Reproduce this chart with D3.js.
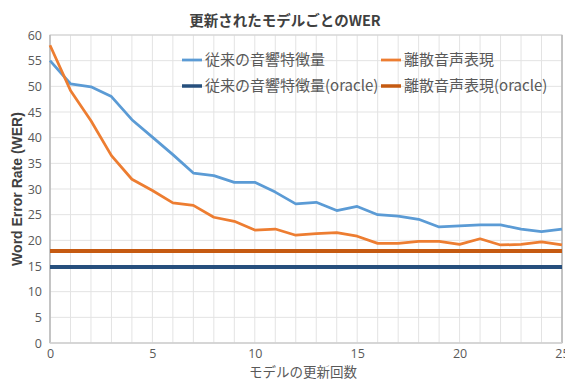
<!DOCTYPE html>
<html>
<head>
<meta charset="utf-8">
<script src="https://cdn.jsdelivr.net/npm/d3@7/dist/d3.min.js"></script>
<style>
  html, body { margin: 0; padding: 0; background: #fff; }
  svg { display: block; font-family: "Noto Sans CJK JP", "Noto Sans", sans-serif; }
</style>
</head>
<body>
<svg id="chart" width="565" height="380"></svg>
<script>
// Number of model updates (x positions)
const updates = d3.range(0, 26);

// WER per update for each feature type
const conventionalWER = [55.0, 50.5, 49.9, 48.0, 43.5, 40.1, 36.7, 33.1, 32.6, 31.3, 31.3, 29.4, 27.1, 27.4, 25.8, 26.6, 25.0, 24.7, 24.1, 22.6, 22.8, 23.0, 23.0, 22.2, 21.7, 22.2];
const discreteWER     = [58.0, 49.2, 43.3, 36.5, 31.9, 29.7, 27.3, 26.8, 24.5, 23.7, 22.0, 22.2, 21.0, 21.3, 21.5, 20.8, 19.4, 19.4, 19.8, 19.8, 19.2, 20.3, 19.1, 19.2, 19.7, 19.1];

// Oracle reference levels (constant)
const conventionalOracle = 14.8;
const discreteOracle     = 17.9;

const seriesNames = ["従来の音響特徴量", "離散音声表現", "従来の音響特徴量(oracle)", "離散音声表現(oracle)"];
const seriesColors = ["#5b9bd5", "#ed7d31", "#264f7d", "#c55a11"];

const yTicks = d3.range(0, 61, 5);
const xTicks = [0, 5, 10, 15, 20, 25];

const margin = { left: 50, right: 3, top: 35, bottom: 37 };
const W = 565, H = 380;
const svg = d3.select("#chart");

const x = d3.scaleLinear().domain([0, 25]).range([margin.left, W - margin.right]);
const y = d3.scaleLinear().domain([0, 60]).range([H - margin.bottom, margin.top]);

// Gridlines
svg.append("g").selectAll("line.v").data(updates.slice(1)).join("line")
  .attr("x1", d => x(d)).attr("x2", d => x(d))
  .attr("y1", y(0)).attr("y2", y(60))
  .attr("stroke", "#e3e3e3").attr("stroke-width", 1);
svg.append("g").selectAll("line.h").data(yTicks.slice(1)).join("line")
  .attr("x1", x(0)).attr("x2", x(25))
  .attr("y1", d => y(d)).attr("y2", d => y(d))
  .attr("stroke", "#e3e3e3").attr("stroke-width", 1);

// Plot frame
svg.append("rect")
  .attr("x", x(0)).attr("y", y(60))
  .attr("width", x(25) - x(0)).attr("height", y(0) - y(60))
  .attr("fill", "none").attr("stroke", "#d0d0d0").attr("stroke-width", 1);
svg.append("line")
  .attr("x1", x(0)).attr("x2", x(0)).attr("y1", y(0)).attr("y2", y(60))
  .attr("stroke", "#b8b8b8").attr("stroke-width", 1.5);
svg.append("line")
  .attr("x1", x(25)).attr("x2", x(25)).attr("y1", y(0)).attr("y2", y(60))
  .attr("stroke", "#b8b8b8").attr("stroke-width", 1.5);
svg.append("line")
  .attr("x1", x(0)).attr("x2", x(25)).attr("y1", y(0)).attr("y2", y(0))
  .attr("stroke", "#d0d0d0").attr("stroke-width", 1.5);

// Axes
const yAxis = svg.append("g")
  .attr("transform", `translate(${x(0) - 8},0)`)
  .call(d3.axisLeft(y).tickValues(yTicks).tickSize(0).tickPadding(0));
const xAxis = svg.append("g")
  .attr("transform", `translate(0,${y(0) + 6})`)
  .call(d3.axisBottom(x).tickValues(xTicks).tickSize(0).tickPadding(0));
[yAxis, xAxis].forEach(a => {
  a.select(".domain").remove();
  a.selectAll("text")
    .attr("fill", "#595959")
    .style("font-size", "12.5px")
    .style("font-family", "'Open Sans', 'Noto Sans', sans-serif");
});
xAxis.selectAll("text").attr("dy", "0.72em");

// Oracle lines
svg.append("line")
  .attr("x1", x(0)).attr("x2", x(25))
  .attr("y1", y(discreteOracle)).attr("y2", y(discreteOracle))
  .attr("stroke", seriesColors[3]).attr("stroke-width", 4);
svg.append("line")
  .attr("x1", x(0)).attr("x2", x(25))
  .attr("y1", y(conventionalOracle)).attr("y2", y(conventionalOracle))
  .attr("stroke", seriesColors[2]).attr("stroke-width", 4);

// Series lines
const line = d3.line().x((d, i) => x(updates[i])).y(d => y(d));
svg.append("path").datum(conventionalWER)
  .attr("d", line).attr("fill", "none")
  .attr("stroke", seriesColors[0]).attr("stroke-width", 2.75)
  .attr("stroke-linejoin", "round");
svg.append("path").datum(discreteWER)
  .attr("d", line).attr("fill", "none")
  .attr("stroke", seriesColors[1]).attr("stroke-width", 2.75)
  .attr("stroke-linejoin", "round");

// Legend
const legendPos = [
  { lx: 182, ty: 60 },  // 従来の音響特徴量
  { lx: 381, ty: 60 },  // 離散音声表現
  { lx: 182, ty: 86 },  // 従来の音響特徴量(oracle)
  { lx: 381, ty: 86 }   // 離散音声表現(oracle)
];
const legend = svg.append("g");
seriesNames.forEach((name, i) => {
  const p = legendPos[i];
  legend.append("line")
    .attr("x1", p.lx).attr("x2", p.lx + 20)
    .attr("y1", p.ty).attr("y2", p.ty)
    .attr("stroke", seriesColors[i]).attr("stroke-width", i < 2 ? 2.75 : 3.5);
  legend.append("text")
    .attr("x", p.lx + 23).attr("y", p.ty)
    .attr("dy", "0.35em")
    .attr("fill", "#595959")
    .style("font-size", "15px")
    .text(name);
});

// Title
svg.append("text")
  .attr("x", 285).attr("y", 26)
  .attr("text-anchor", "middle")
  .attr("fill", "#404040")
  .style("font-size", "14.5px").style("font-weight", "bold")
  .text("更新されたモデルごとのWER");

// Axis titles
svg.append("text")
  .attr("transform", `translate(22,${(y(0) + y(60)) / 2}) rotate(-90)`)
  .attr("text-anchor", "middle")
  .attr("fill", "#404040")
  .style("font-size", "14px").style("font-weight", "bold")
  .style("font-family", "'Liberation Sans', Arial, sans-serif")
  .text("Word Error Rate (WER)");
svg.append("text")
  .attr("x", 303).attr("y", 377)
  .attr("text-anchor", "middle")
  .attr("fill", "#595959")
  .style("font-size", "13.5px")
  .text("モデルの更新回数");
</script>
</body>
</html>
